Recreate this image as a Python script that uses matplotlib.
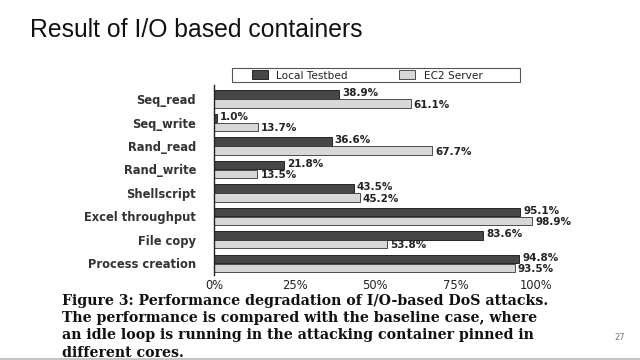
import matplotlib
matplotlib.use("Agg")
import matplotlib.pyplot as plt
from matplotlib.patches import Rectangle
import numpy as np

title = "Result of I/O based containers"
categories = ["Seq_read", "Seq_write", "Rand_read", "Rand_write",
              "Shellscript", "Excel throughput", "File copy", "Process creation"]
local_testbed = [38.9, 1.0, 36.6, 21.8, 43.5, 95.1, 83.6, 94.8]
ec2_server = [61.1, 13.7, 67.7, 13.5, 45.2, 98.9, 53.8, 93.5]
series_names = ["Local Testbed", "EC2 Server"]
xticks = [0, 25, 50, 75, 100]
xtick_labels = ["0%", "25%", "50%", "75%", "100%"]
caption_lines = [
    "Figure 3: Performance degradation of I/O-based DoS attacks.",
    "The performance is compared with the baseline case, where",
    "an idle loop is running in the attacking container pinned in",
    "different cores.",
]
page_number = "27"

plt.rcParams['font.family'] = ['DejaVu Sans']

fig = plt.figure(figsize=(6.4, 3.6), dpi=100)
fig.patch.set_facecolor("white")

# title
fig.text(30 / 640, 1 - 30 / 360, title, family=["Liberation Sans", "DejaVu Sans"],
         fontsize=17.8, color="#111111", va="center", ha="left")

ax = fig.add_axes([214 / 640, (360 - 275) / 360, 322 / 640, 190 / 360])
y = np.arange(len(categories))
h = 0.36
off = 0.19
dark = "#474747"
light = "#d7d7d7"
ax.barh(y - off, local_testbed, height=h, color=dark, edgecolor="#111111",
        linewidth=0.6, label=series_names[0])
ax.barh(y + off, ec2_server, height=h, color=light, edgecolor="#333333",
        linewidth=0.6, label=series_names[1])

for yi, v in zip(y, local_testbed):
    ax.text(v + 0.9, yi - off - 0.05, f"{v:.1f}%", fontsize=7.5, fontweight="bold",
            color="#222222", va="center", ha="left")
for yi, v in zip(y, ec2_server):
    ax.text(v + 0.9, yi + off + 0.05, f"{v:.1f}%", fontsize=7.5, fontweight="bold",
            color="#222222", va="center", ha="left")

ax.set_xlim(0, 100)
ax.set_ylim(7.5, -0.6)
ax.set_yticks(y)
ax.set_yticklabels(categories, fontsize=8.3, color="#333333", fontweight="bold")
ax.set_xticks(xticks)
ax.set_xticklabels(xtick_labels, fontsize=8.3, color="#222222")
ax.tick_params(axis="y", length=0, pad=13)
ax.tick_params(axis="x", length=0, pad=3)
for s in ["top", "right", "bottom"]:
    ax.spines[s].set_visible(False)
ax.spines["left"].set_color("#222222")
ax.spines["left"].set_linewidth(1.0)

# legend
leg = fig.legend(loc="center", bbox_to_anchor=(367 / 640, 1 - 75.5 / 360),
                 ncol=2, fontsize=7.6, frameon=False,
                 handlelength=1.5, handleheight=0.9,
                 borderpad=0.0, columnspacing=4.8, handletextpad=0.85)
for t in leg.get_texts():
    t.set_color("#222222")
fig.patches.append(Rectangle((232 / 640, 1 - 82 / 360), 288 / 640, 14 / 360,
                             transform=fig.transFigure, fill=False,
                             edgecolor="#555555", linewidth=0.8))

# caption
for i, line in enumerate(caption_lines):
    fig.text(62 / 640, 1 - (301 + i * 17.2) / 360, line,
             family=["DejaVu Serif"],
             fontsize=10.15, fontweight="bold", color="#111111", va="center", ha="left")

fig.text(620 / 640, 1 - 338 / 360, page_number, fontsize=6, color="#777777",
         va="center", ha="center")

# bottom grey band
fig.patches.append(Rectangle((0, 0), 1, 2.5 / 360, transform=fig.transFigure,
                             facecolor="#c4c4c4", edgecolor="none"))

fig.savefig("out.png", dpi=100, facecolor="white")
